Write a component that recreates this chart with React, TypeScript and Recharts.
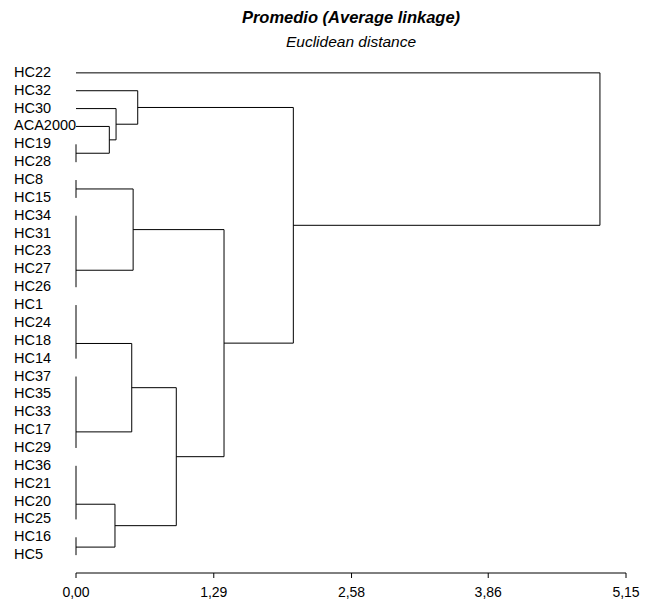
import { ComposedChart, Scatter, XAxis, YAxis } from "recharts";

// leaf order, top to bottom
const leaves = [
  "HC22", "HC32", "HC30", "ACA2000", "HC19", "HC28", "HC8", "HC15", "HC34",
  "HC31", "HC23", "HC27", "HC26", "HC1", "HC24", "HC18", "HC14", "HC37",
  "HC35", "HC33", "HC17", "HC29", "HC36", "HC21", "HC20", "HC25", "HC16", "HC5",
];

// groups joined at distance 0, and the row where their parent branch attaches
const tieFirst = ["HC19", "HC8", "HC34", "HC1", "HC37", "HC36", "HC16"];
const tieLast = ["HC28", "HC15", "HC26", "HC14", "HC29", "HC25", "HC5"];
const tieJoin = [4.5, 6.5, 11.05, 15.15, 20.1, 24.15, 26.55];

// merges: "tN" = tie group N, "mN" = merge N, otherwise a leaf
const mergeUpper = ["ACA2000", "HC30", "HC32", "t1", "t3", "t5", "m4", "m3", "m2", "HC22"];
const mergeLower = ["t0", "m0", "m1", "t2", "t4", "t6", "m5", "m6", "m7", "m8"];
const mergeHeight = [0.312, 0.375, 0.578, 0.535, 0.522, 0.365, 0.939, 1.386, 2.035, 4.906];

const xTicks = [0, 1.29, 2.58, 3.86, 5.15];

const FONT = '"Liberation Sans", Arial, sans-serif';

type Pos = { row: number; h: number };

function place(ref: string): Pos {
  if (/^t\d+$/.test(ref)) return { row: tieJoin[Number(ref.slice(1))], h: 0 };
  if (/^m\d+$/.test(ref)) {
    const i = Number(ref.slice(1));
    const u = place(mergeUpper[i]);
    const l = place(mergeLower[i]);
    return { row: (u.row + l.row) / 2, h: mergeHeight[i] };
  }
  return { row: leaves.indexOf(ref), h: 0 };
}

const tieLinks = tieFirst.map((f, i) => [
  { x: 0, y: leaves.indexOf(f) },
  { x: 0, y: leaves.indexOf(tieLast[i]) },
]);

const mergeLinks = mergeHeight.map((h, i) => {
  const u = place(mergeUpper[i]);
  const l = place(mergeLower[i]);
  return [
    { x: u.h, y: u.row },
    { x: h, y: u.row },
    { x: h, y: l.row },
    { x: l.h, y: l.row },
  ];
});

const links = [...tieLinks, ...mergeLinks];

function LeafTick(props: any) {
  const { y, payload } = props;
  return (
    <text x={14} y={y} dy={4} fontSize={14.5} fontFamily={FONT} fill="#000" textAnchor="start">
      {leaves[payload.value]}
    </text>
  );
}

export default function App() {
  return (
    <div style={{ position: "absolute", left: 0, top: 0, width: 653, height: 600, background: "#fff" }}>
      <div
        style={{
          position: "absolute", left: 76, width: 550, top: 7, textAlign: "center",
          fontFamily: FONT, fontSize: 16.5, lineHeight: "20px", fontWeight: "bold", fontStyle: "italic",
        }}
      >
        Promedio (Average linkage)
      </div>
      <div
        style={{
          position: "absolute", left: 76, width: 550, top: 32, textAlign: "center",
          fontFamily: FONT, fontSize: 15.5, lineHeight: "20px", fontStyle: "italic",
        }}
      >
        Euclidean distance
      </div>
      <ComposedChart width={653} height={600} margin={{ top: 55, right: 27, bottom: 0, left: 0 }}>
        <XAxis
          type="number"
          dataKey="x"
          domain={[0, 5.15]}
          ticks={xTicks}
          tickFormatter={(v: number) => v.toFixed(2).replace(".", ",")}
          height={27}
          tickSize={5}
          tickMargin={9}
          stroke="#000"
          tick={{ fill: "#000", fontSize: 14, fontFamily: FONT }}
        />
        <YAxis
          type="number"
          dataKey="y"
          domain={[-1, 28]}
          reversed
          ticks={leaves.map((_, i) => i)}
          interval={0}
          width={76}
          axisLine={false}
          tickLine={false}
          tick={<LeafTick />}
        />
        {links.map((pts, i) => (
          <Scatter
            key={i}
            data={pts}
            line={{ stroke: "#000", strokeWidth: 1 }}
            shape={() => <g />}
            isAnimationActive={false}
            legendType="none"
          />
        ))}
      </ComposedChart>
    </div>
  );
}
